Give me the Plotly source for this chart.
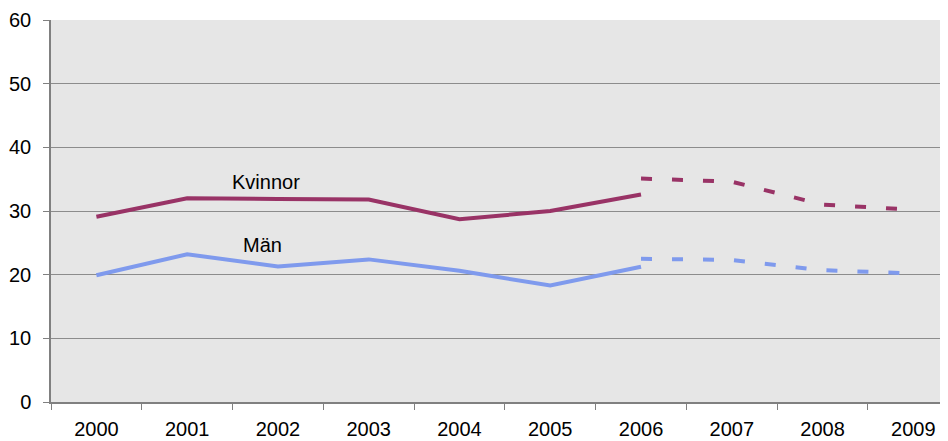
import plotly.graph_objects as go

years = ["2000", "2001", "2002", "2003", "2004", "2005", "2006", "2007", "2008", "2009"]
kvinnor_actual = [29.1, 32.0, 31.9, 31.8, 28.7, 30.0, 32.6, None, None, None]
kvinnor_forecast = [None, None, None, None, None, None, 35.1, 34.6, 31.0, 30.2]
man_actual = [19.9, 23.2, 21.3, 22.4, 20.6, 18.3, 21.25, None, None, None]
man_forecast = [None, None, None, None, None, None, 22.5, 22.3, 20.7, 20.2]
y_ticks = [0, 10, 20, 30, 40, 50, 60]

col_k = "#993366"
col_m = "#7f9aed"
xs = list(range(len(years)))

fig = go.Figure()
fig.add_trace(go.Scatter(x=xs, y=kvinnor_actual, mode="lines", line=dict(color=col_k, width=4), connectgaps=False))
fig.add_trace(go.Scatter(x=xs, y=kvinnor_forecast, mode="lines", line=dict(color=col_k, width=4, dash="11px,20px"), connectgaps=False))
fig.add_trace(go.Scatter(x=xs, y=man_actual, mode="lines", line=dict(color=col_m, width=4), connectgaps=False))
fig.add_trace(go.Scatter(x=xs, y=man_forecast, mode="lines", line=dict(color=col_m, width=4, dash="11px,20px"), connectgaps=False))

fig.add_annotation(x=1.87, y=34.5, text="Kvinnor", showarrow=False, font=dict(size=20, color="black"))
fig.add_annotation(x=1.83, y=24.6, text="Män", showarrow=False, font=dict(size=20, color="black"))

# page body has an 8px margin, so the figure is offset by 8px
fig.update_layout(
    width=940, height=433,
    margin=dict(l=43, r=0, t=12, b=39, autoexpand=False),
    paper_bgcolor="white", plot_bgcolor="#e6e6e6",
    showlegend=False,
    font=dict(family="Liberation Sans, Arial, sans-serif", size=20, color="black"),
)
fig.update_xaxes(
    range=[-0.5, 9.382],
    tickvals=xs, ticktext=years,
    showgrid=False, zeroline=False,
    showline=True, linecolor="#808080", linewidth=1.5,
    ticks="", automargin=False,
    ticklabelstandoff=8,
)
fig.update_xaxes(minor=dict(tickvals=[i - 0.5 for i in range(len(years) + 1)], ticks="outside", ticklen=6, tickcolor="#808080", showgrid=False))
fig.update_yaxes(
    range=[0, 60], tickvals=y_ticks,
    showgrid=True, gridcolor="#8c8c8c", gridwidth=1,
    zeroline=False, automargin=False,
    showline=True, linecolor="#808080", linewidth=1.5,
    ticks="outside", ticklen=6, tickcolor="#808080",
    ticklabelstandoff=8,
)

fig.write_html("out.html")
